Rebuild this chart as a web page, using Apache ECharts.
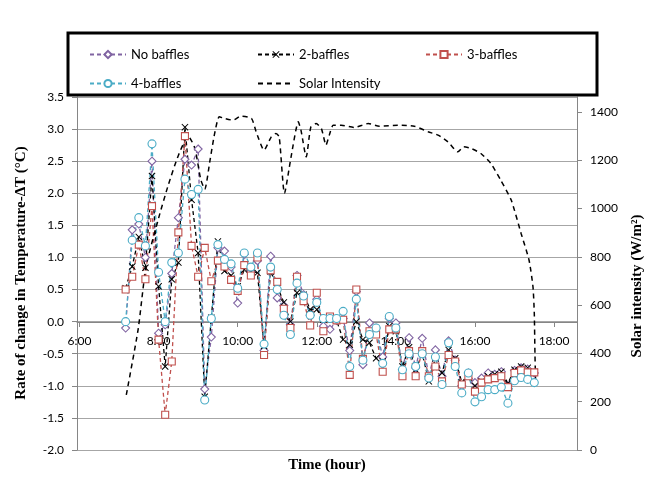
<!DOCTYPE html>
<html>
<head>
<meta charset="utf-8">
<script src="https://cdn.jsdelivr.net/npm/echarts@6/dist/echarts.min.js"></script>
<style>
html, body { margin: 0; padding: 0; background: #fff; }
#chart { width: 657px; height: 482px; }
</style>
</head>
<body>
<div id="chart"></div>
<script>
// readings every 10 minutes
var times = ['7:10','7:20','7:30','7:40','7:50','8:00','8:10','8:20','8:30','8:40','8:50',
    '9:00','9:10','9:20','9:30','9:40','9:50','10:00','10:10','10:20','10:30','10:40','10:50',
    '11:00','11:10','11:20','11:30','11:40','11:50','12:00','12:10','12:20','12:30','12:40','12:50',
    '13:00','13:10','13:20','13:30','13:40','13:50','14:00','14:10','14:20','14:30','14:40','14:50',
    '15:00','15:10','15:20','15:30','15:40','15:50','16:00','16:10','16:20','16:30','16:40','16:50',
    '17:00','17:10','17:20','17:30'];

var noBaffles = [-0.1,1.43,1.52,1.0,2.5,-0.18,-0.05,0.75,1.62,2.53,2.44,2.69,-1.05,-0.24,1.15,1.1,
    0.85,0.29,1.05,0.78,0.95,-0.45,1.02,0.37,0.25,-0.05,0.72,0.42,0.1,0.35,-0.07,-0.12,0.02,0.05,
    -0.45,0.47,-0.67,-0.02,-0.1,-0.55,0.05,-0.02,-0.75,-0.25,-0.72,-0.26,-0.85,-0.44,-0.85,-0.3,
    -0.6,-1.0,-0.8,-0.95,-0.88,-0.8,-0.82,-0.78,-1.0,-0.76,-0.72,-0.74,-0.8];

var twoBaffles = [0.52,0.86,1.32,0.84,2.27,0.55,-0.7,0.66,0.92,3.03,1.9,1.07,-1.17,0.06,1.25,0.79,
    0.72,0.55,0.81,0.79,0.76,-0.38,0.78,0.55,0.3,0.0,0.45,0.42,0.19,0.19,0.03,0.05,0.02,-0.28,
    -0.36,0.0,-0.28,-0.33,-0.57,-0.62,-0.07,-0.15,-0.7,-0.4,-0.75,-0.5,-0.93,-0.57,-0.8,-0.44,
    -0.57,-0.95,-0.82,-1.0,-0.93,-0.85,-0.82,-0.78,-0.96,-0.75,-0.7,-0.72,-0.78];

var threeBaffles = [0.5,0.7,1.2,0.66,1.8,-0.28,-1.45,-0.62,1.39,2.89,1.18,0.7,1.15,0.63,0.95,0.86,
    0.65,0.48,0.88,0.72,1.0,-0.52,0.8,0.62,0.2,-0.1,0.7,0.32,-0.06,0.45,-0.15,0.08,0.02,0.03,
    -0.83,0.5,-0.58,-0.15,-0.2,-0.78,-0.12,-0.12,-0.85,-0.46,-0.85,-0.46,-0.85,-0.7,-0.93,-0.52,
    -0.62,-0.98,-0.85,-1.09,-0.95,-0.9,-0.88,-0.85,-1.02,-0.8,-0.76,-0.79,-0.79];

var fourBaffles = [0.0,1.27,1.62,1.18,2.77,0.77,0.0,0.92,1.07,2.22,1.98,2.06,-1.22,0.05,1.2,0.97,
    0.9,0.52,1.07,0.85,1.07,-0.35,0.85,0.5,0.1,-0.2,0.6,0.4,0.1,0.3,0.05,0.05,0.05,0.16,
    -0.7,0.35,-0.6,-0.2,-0.1,-0.65,0.08,-0.1,-0.75,-0.5,-0.7,-0.5,-0.88,-0.55,-0.98,-0.33,
    -0.7,-1.11,-0.8,-1.25,-1.17,-1.06,-1.06,-1.02,-1.27,-0.92,-0.87,-0.9,-0.95];

// solar intensity (W/m2), secondary axis
var solarTimes = ['7:11','7:29','7:41','8:00','8:15','8:30','8:45','8:55','9:04','9:10','9:18',
    '9:25','9:32','9:40','9:53','10:05','10:21','10:28','10:40','10:51','10:58','11:03','11:11',
    '11:21','11:32','11:36','11:44','11:51','11:59','12:07','12:14','12:19','12:25','12:37',
    '12:57','13:18','13:35','14:03','14:28','14:49','15:04','15:19','15:34','15:43','15:54',
    '16:09','16:24','16:39','16:55','17:10','17:22','17:28','17:30','17:31','17:32'];
var solarValues = [228,500,760,960,1100,1220,1300,1250,1120,1080,1200,
    1310,1380,1373,1366,1383,1373,1318,1242,1297,1311,1297,1063,
    1214,1359,1325,1214,1338,1352,1331,1263,1304,1345,1345,
    1336,1352,1341,1345,1341,1318,1304,1276,1235,1256,1249,
    1228,1187,1118,1035,897,787,676,566,400,276];

var timeTicks = [6, 8, 10, 12, 14, 16, 18];
var solarTicks = [0, 200, 400, 600, 800, 1000, 1200, 1400];

function toHours(s) {
    var p = s.split(':');
    return +p[0] + (+p[1]) / 60;
}
function pairs(ts, vs) {
    return ts.map(function (t, i) { return [toHours(t), vs[i]]; });
}

var labelFont = 'Lato, "Open Sans", sans-serif';
var titleFont = '"Liberation Serif", "DejaVu Serif", serif';
var crossPath = 'path://M0,1L1,0L5,4L9,0L10,1L6,5L10,9L9,10L5,6L1,10L0,9L4,5Z';

function tempSeries(name, data, color, symbol, size, filled) {
    return {
        name: name,
        type: 'line',
        data: pairs(times, data),
        symbol: symbol,
        symbolSize: size,
        lineStyle: { color: color, width: 1.3, type: [4, 3] },
        itemStyle: filled ? { color: color } : { color: '#fff', borderColor: color, borderWidth: 1.1 },
        emphasis: { disabled: true }
    };
}

function legendAt(item, left, top) {
    return {
        data: [item],
        left: left,
        top: top,
        itemWidth: 36,
        itemHeight: 9,
        itemGap: 4,
        textStyle: { fontFamily: labelFont, fontSize: 13, color: '#000' },
        selectedMode: false
    };
}

var chart = echarts.init(document.getElementById('chart'));
chart.setOption({
    backgroundColor: '#fff',
    animation: false,
    grid: { left: 77, right: 80, top: 97, bottom: 32, containLabel: false },
    legend: [
        legendAt('No baffles', 84, 43),
        legendAt('2-baffles', 252, 43),
        legendAt('3-baffles', 420, 43),
        legendAt('4-baffles', 84, 72),
        legendAt({ name: 'Solar Intensity', itemStyle: { opacity: 0 } }, 252, 72)
    ],
    xAxis: {
        type: 'value',
        min: 5.937,
        max: 18.58,
        // the time axis crosses the temperature axis at 0 (y = 0 sits 128px above the bottom)
        offset: -128,
        axisLine: { onZero: false, lineStyle: { color: '#868686', width: 1 } },
        axisTick: { customValues: timeTicks, length: 5, lineStyle: { color: '#868686' } },
        axisLabel: {
            customValues: timeTicks,
            margin: 13,
            fontFamily: labelFont,
            fontSize: 12,
            color: '#000',
            formatter: function (v) { return Math.round(v) + ':00'; }
        },
        splitLine: { show: false }
    },
    yAxis: [
        {
            type: 'value',
            min: -2,
            max: 3.5,
            interval: 0.5,
            axisLine: { show: true, onZero: false, lineStyle: { color: '#868686' } },
            axisTick: { show: true, length: 5, lineStyle: { color: '#868686' } },
            axisLabel: {
                margin: 13,
                fontFamily: labelFont,
                fontSize: 12,
                color: '#000',
                formatter: function (v) { return v.toFixed(1); }
            },
            splitLine: { show: true, lineStyle: { color: '#a6a6a6', width: 1 } }
        },
        {
            type: 'value',
            position: 'right',
            min: 0,
            max: 1462,
            axisLine: { show: true, onZero: false, lineStyle: { color: '#868686' } },
            axisTick: { show: true, customValues: solarTicks, length: 5, lineStyle: { color: '#868686' } },
            axisLabel: {
                customValues: solarTicks,
                margin: 13,
                fontFamily: labelFont,
                fontSize: 12,
                color: '#000',
                formatter: function (v) { return String(v); }
            },
            splitLine: { show: false }
        }
    ],
    graphic: [
        {
            type: 'rect',
            z: 1,
            shape: { x: 68, y: 33, width: 529, height: 62 },
            style: { fill: '#fff', stroke: '#000', lineWidth: 3 }
        },
        {
            type: 'text',
            x: 21, y: 273,
            rotation: Math.PI / 2,
            style: {
                text: 'Rate of change in Temperature-ΔT (°C)',
                font: 'bold 15px ' + titleFont,
                fill: '#000',
                align: 'center',
                verticalAlign: 'middle'
            }
        },
        {
            type: 'text',
            x: 637, y: 286,
            rotation: Math.PI / 2,
            style: {
                text: 'Solar intensity (W/m²)',
                font: 'bold 15px ' + titleFont,
                fill: '#000',
                align: 'center',
                verticalAlign: 'middle'
            }
        },
        {
            type: 'text',
            x: 327, y: 465,
            style: {
                text: 'Time (hour)',
                font: 'bold 15px ' + titleFont,
                fill: '#000',
                align: 'center',
                verticalAlign: 'middle'
            }
        }
    ],
    series: [
        tempSeries('No baffles', noBaffles, '#8064A2', 'diamond', 8, false),
        tempSeries('2-baffles', twoBaffles, '#000000', crossPath, 7, true),
        tempSeries('3-baffles', threeBaffles, '#C0504D', 'rect', 7, false),
        tempSeries('4-baffles', fourBaffles, '#4BACC6', 'circle', 8, false),
        {
            name: 'Solar Intensity',
            type: 'line',
            yAxisIndex: 1,
            data: pairs(solarTimes, solarValues),
            symbol: 'none',
            smooth: 0.2,
            lineStyle: { color: '#000', width: 1.5, type: [5, 4] },
            itemStyle: { color: '#000' },
            emphasis: { disabled: true }
        }
    ]
});
</script>
</body>
</html>
